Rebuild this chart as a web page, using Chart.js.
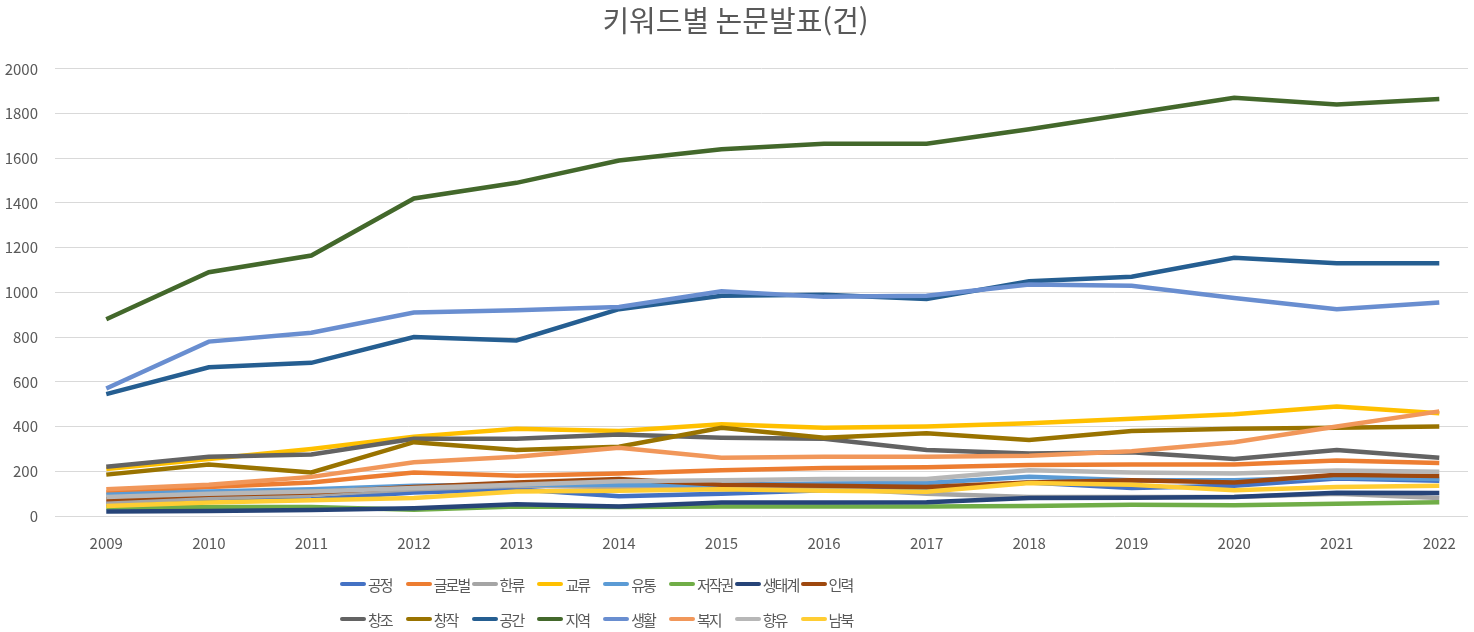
<!DOCTYPE html>
<html lang="ko">
<head>
<meta charset="utf-8">
<title>키워드별 논문발표(건)</title>
<script src="https://cdn.jsdelivr.net/npm/chart.js@4.4.0/dist/chart.umd.min.js"></script>
<style>
  body { margin: 0; background: #fff; }
  .wrap { position: relative; width: 1474px; height: 632px; }
  #legend {
    position: absolute; left: 340px; top: 572px;
    display: grid; grid-template-columns: repeat(8, 65.8px); grid-auto-rows: 35px;
    font-family: 'Noto Sans CJK KR', sans-serif; font-size: 15px; color: #595959;
  }
  .item { display: flex; align-items: center; height: 24px; white-space: nowrap; letter-spacing: -2px; }
  .swatch { width: 26px; height: 4px; border-radius: 2px; margin-right: 2px; flex: none; }
</style>
</head>
<body>
<div class="wrap">
  <canvas id="myChart"></canvas>
  <div id="legend"></div>
</div>
<script>
// years on the x axis
const years = [2009, 2010, 2011, 2012, 2013, 2014, 2015, 2016, 2017, 2018, 2019, 2020, 2021, 2022];

// papers per keyword
const gongjeong   = [55, 70, 75, 105, 120, 88, 100, 115, 120, 150, 125, 135, 168, 158];     // 공정
const globalKw    = [105, 130, 150, 195, 180, 190, 205, 215, 218, 228, 230, 230, 248, 237]; // 글로벌
const hanryu      = [60, 80, 95, 120, 135, 130, 130, 125, 100, 85, 85, 85, 100, 80];        // 한류
const gyoryu      = [210, 255, 300, 355, 390, 380, 410, 395, 400, 415, 435, 455, 490, 460]; // 교류
const yutong      = [95, 110, 120, 135, 140, 140, 140, 145, 148, 175, 160, 160, 172, 165];  // 유통
const jeojakgwon  = [38, 40, 40, 28, 42, 40, 42, 42, 42, 45, 50, 48, 55, 62];               // 저작권
const saengtaegye = [20, 22, 27, 35, 52, 42, 60, 60, 62, 80, 82, 85, 104, 103];             // 생태계
const inryeok     = [75, 95, 105, 130, 150, 165, 140, 135, 130, 150, 160, 150, 184, 179];   // 인력
const changjo     = [220, 265, 275, 345, 345, 365, 350, 345, 295, 280, 285, 255, 295, 260]; // 창조
const changjak    = [185, 230, 195, 330, 295, 310, 395, 350, 370, 340, 380, 390, 395, 400]; // 창작
const gonggan     = [545, 665, 685, 800, 785, 925, 985, 990, 970, 1050, 1070, 1155, 1130, 1130]; // 공간
const jiyeok      = [880, 1090, 1165, 1420, 1490, 1590, 1640, 1665, 1665, 1730, 1800, 1870, 1840, 1865]; // 지역
const saenghwal   = [570, 780, 820, 910, 920, 935, 1005, 980, 985, 1035, 1030, 975, 925, 955]; // 생활
const bokji       = [120, 140, 175, 240, 265, 305, 260, 265, 265, 270, 290, 330, 400, 468]; // 복지
const hyangyu     = [85, 100, 110, 125, 140, 155, 160, 165, 165, 205, 195, 190, 203, 198];  // 향유
const nambuk      = [45, 60, 70, 80, 110, 113, 120, 113, 108, 148, 140, 115, 130, 135];     // 남북

const seriesNames = ['공정', '글로벌', '한류', '교류', '유통', '저작권', '생태계', '인력',
                     '창조', '창작', '공간', '지역', '생활', '복지', '향유', '남북'];
const seriesValues = [gongjeong, globalKw, hanryu, gyoryu, yutong, jeojakgwon, saengtaegye, inryeok,
                      changjo, changjak, gonggan, jiyeok, saenghwal, bokji, hyangyu, nambuk];
const seriesColors = ['#4472C4', '#ED7D31', '#A5A5A5', '#FFC000', '#5B9BD5', '#70AD47', '#264478', '#9E480E',
                      '#636363', '#997300', '#255E91', '#43682B', '#698ED0', '#F1975A', '#B7B7B7', '#FFCD33'];

const yTicks = [0, 200, 400, 600, 800, 1000, 1200, 1400, 1600, 1800, 2000];

const textColor = '#595959';
const fontName = "'Noto Sans CJK KR', 'Noto Sans', sans-serif";

const datasets = seriesNames.map((name, i) => ({
  label: name,
  data: seriesValues[i].map((v, j) => ({ x: years[j], y: v })),
  borderColor: seriesColors[i],
  backgroundColor: seriesColors[i],
  borderWidth: 4.5,
  pointRadius: 0,
  tension: 0,
  order: seriesNames.length - i // later series on top, like Excel
}));

const chart = new Chart(document.getElementById('myChart'), {
  type: 'line',
  data: { datasets },
  options: {
    responsive: true,
    maintainAspectRatio: false,
    animation: false,
    layout: { padding: { left: 0, right: 3, top: 0, bottom: 62 } },
    plugins: {
      legend: { display: false },
      tooltip: { enabled: false },
      title: {
        display: true,
        text: '키워드별 논문발표(건)',
        color: textColor,
        font: { family: fontName, size: 29, weight: 'normal' },
        padding: { top: 4, bottom: 30 }
      }
    },
    scales: {
      x: {
        type: 'linear',
        min: 2008.5,
        max: 2022.28,
        afterBuildTicks: s => { s.ticks = years.map(v => ({ value: v })); },
        ticks: {
          color: textColor,
          font: { family: fontName, size: 15 },
          padding: 18,
          maxRotation: 0,
          callback: v => String(v)
        },
        grid: { display: false, drawTicks: false },
        border: { display: false }
      },
      y: {
        min: 0,
        max: 2000,
        afterBuildTicks: s => { s.ticks = yTicks.map(v => ({ value: v })); },
        afterFit: s => { s.width = 55; },
        ticks: {
          color: textColor,
          font: { family: fontName, size: 15 },
          padding: 17,
          callback: v => String(v)
        },
        grid: { color: '#d9d9d9', lineWidth: 1, drawTicks: false },
        border: { display: false }
      }
    }
  }
});

// legend laid out in fixed columns like the original
const legendBox = document.getElementById('legend');
chart.data.datasets.forEach(ds => {
  const item = document.createElement('div');
  item.className = 'item';
  const sw = document.createElement('span');
  sw.className = 'swatch';
  sw.style.background = ds.borderColor;
  const txt = document.createElement('span');
  txt.textContent = ds.label;
  item.appendChild(sw);
  item.appendChild(txt);
  legendBox.appendChild(item);
});
</script>
</body>
</html>
